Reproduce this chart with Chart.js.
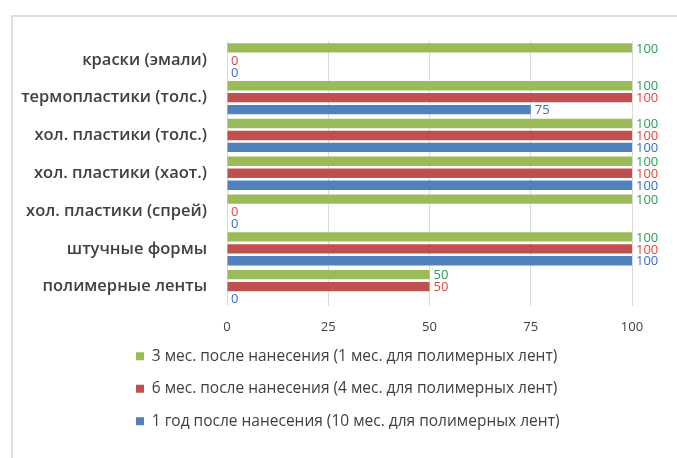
<!DOCTYPE html>
<html>
<head>
<meta charset="utf-8">
<script src="https://cdn.jsdelivr.net/npm/chart.js@4"></script>
<style>
  html, body { margin: 0; padding: 0; background: #ffffff; }
  #wrap { position: relative; width: 677px; height: 458px; overflow: hidden; background: #fff; }
  #frame { position: absolute; left: 11px; top: 15px; width: 700px; height: 500px;
           border-top: 2px solid #dedede; border-left: 2px solid #dedede; }
  canvas { position: absolute; left: 0; top: 0; }
</style>
</head>
<body>
<div id="wrap">
  <div id="frame"></div>
  <canvas id="c" width="677" height="458"></canvas>
</div>
<script>
// Categories (top to bottom)
const categories = [
  'краски (эмали)',
  'термопластики (толс.)',
  'хол. пластики (толс.)',
  'хол. пластики (хаот.)',
  'хол. пластики (спрей)',
  'штучные формы',
  'полимерные ленты'
];

// Share of preserved markings, %
const after3Months = [100, 100, 100, 100, 100, 100, 50];
const after6Months = [0, 100, 100, 100, 0, 100, 50];
const after1Year   = [0, 75, 100, 100, 0, 100, 0];

const seriesNames = [
  '3 мес. после нанесения (1 мес. для полимерных лент)',
  '6 мес. после нанесения (4 мес. для полимерных лент)',
  '1 год после нанесения (10 мес. для полимерных лент)'
];

const xTicks = [0, 25, 50, 75, 100];

const barColors = ['#9bbb59', '#c0504d', '#4f81bd'];
const labelColors = ['#2a9c5a', '#e2463d', '#3a6cc2'];

// Writes each bar's value just past its end
const valueLabels = {
  id: 'valueLabels',
  afterDatasetsDraw(chart) {
    const ctx = chart.ctx;
    ctx.save();
    ctx.font = '13px "Open Sans", sans-serif';
    ctx.textAlign = 'left';
    ctx.textBaseline = 'middle';
    chart.data.datasets.forEach((ds, di) => {
      const meta = chart.getDatasetMeta(di);
      ctx.fillStyle = labelColors[di];
      meta.data.forEach((bar, i) => {
        ctx.fillText(String(ds.data[i]), bar.x + 4, bar.y + 1);
      });
    });
    ctx.restore();
  }
};

// Moves the legend block so its rows start under the plot
const legendOffset = {
  id: 'legendOffset',
  afterLayout(chart) {
    const lg = chart.legend;
    if (lg) { lg.left += 107; lg.right += 107; }
  }
};

new Chart(document.getElementById('c'), {
  type: 'bar',
  data: {
    labels: categories,
    datasets: [
      { label: seriesNames[0], data: after3Months, backgroundColor: barColors[0] },
      { label: seriesNames[1], data: after6Months, backgroundColor: barColors[1] },
      { label: seriesNames[2], data: after1Year,   backgroundColor: barColors[2] }
    ]
  },
  options: {
    indexAxis: 'y',
    responsive: false,
    animation: false,
    devicePixelRatio: 1,
    layout: { padding: { left: 12, right: 45, top: 41, bottom: 19 } },
    datasets: { bar: { categoryPercentage: 0.95, barPercentage: 0.78 } },
    scales: {
      x: {
        min: 0, max: 100,
        afterBuildTicks(scale) { scale.ticks = xTicks.map(v => ({ value: v })); },
        afterFit(scale) { scale.height = 26; },
        grid: { color: '#d9d9d9', lineWidth: 1, drawTicks: false },
        border: { display: false },
        ticks: { color: '#404040', padding: 14, font: { family: 'Open Sans', size: 13 } }
      },
      y: {
        afterFit(scale) { scale.width = 215; },
        grid: { display: false },
        border: { display: false },
        ticks: { color: '#404040', padding: 12, font: { family: 'Open Sans', size: 16.5, weight: '600' } }
      }
    },
    plugins: {
      legend: {
        position: 'bottom',
        align: 'start',
        labels: {
          boxWidth: 8, boxHeight: 8, padding: 17, color: '#404040',
          font: { family: 'Open Sans', size: 15.5 }
        }
      },
      tooltip: { enabled: false }
    }
  },
  plugins: [valueLabels, legendOffset]
});
</script>
</body>
</html>
